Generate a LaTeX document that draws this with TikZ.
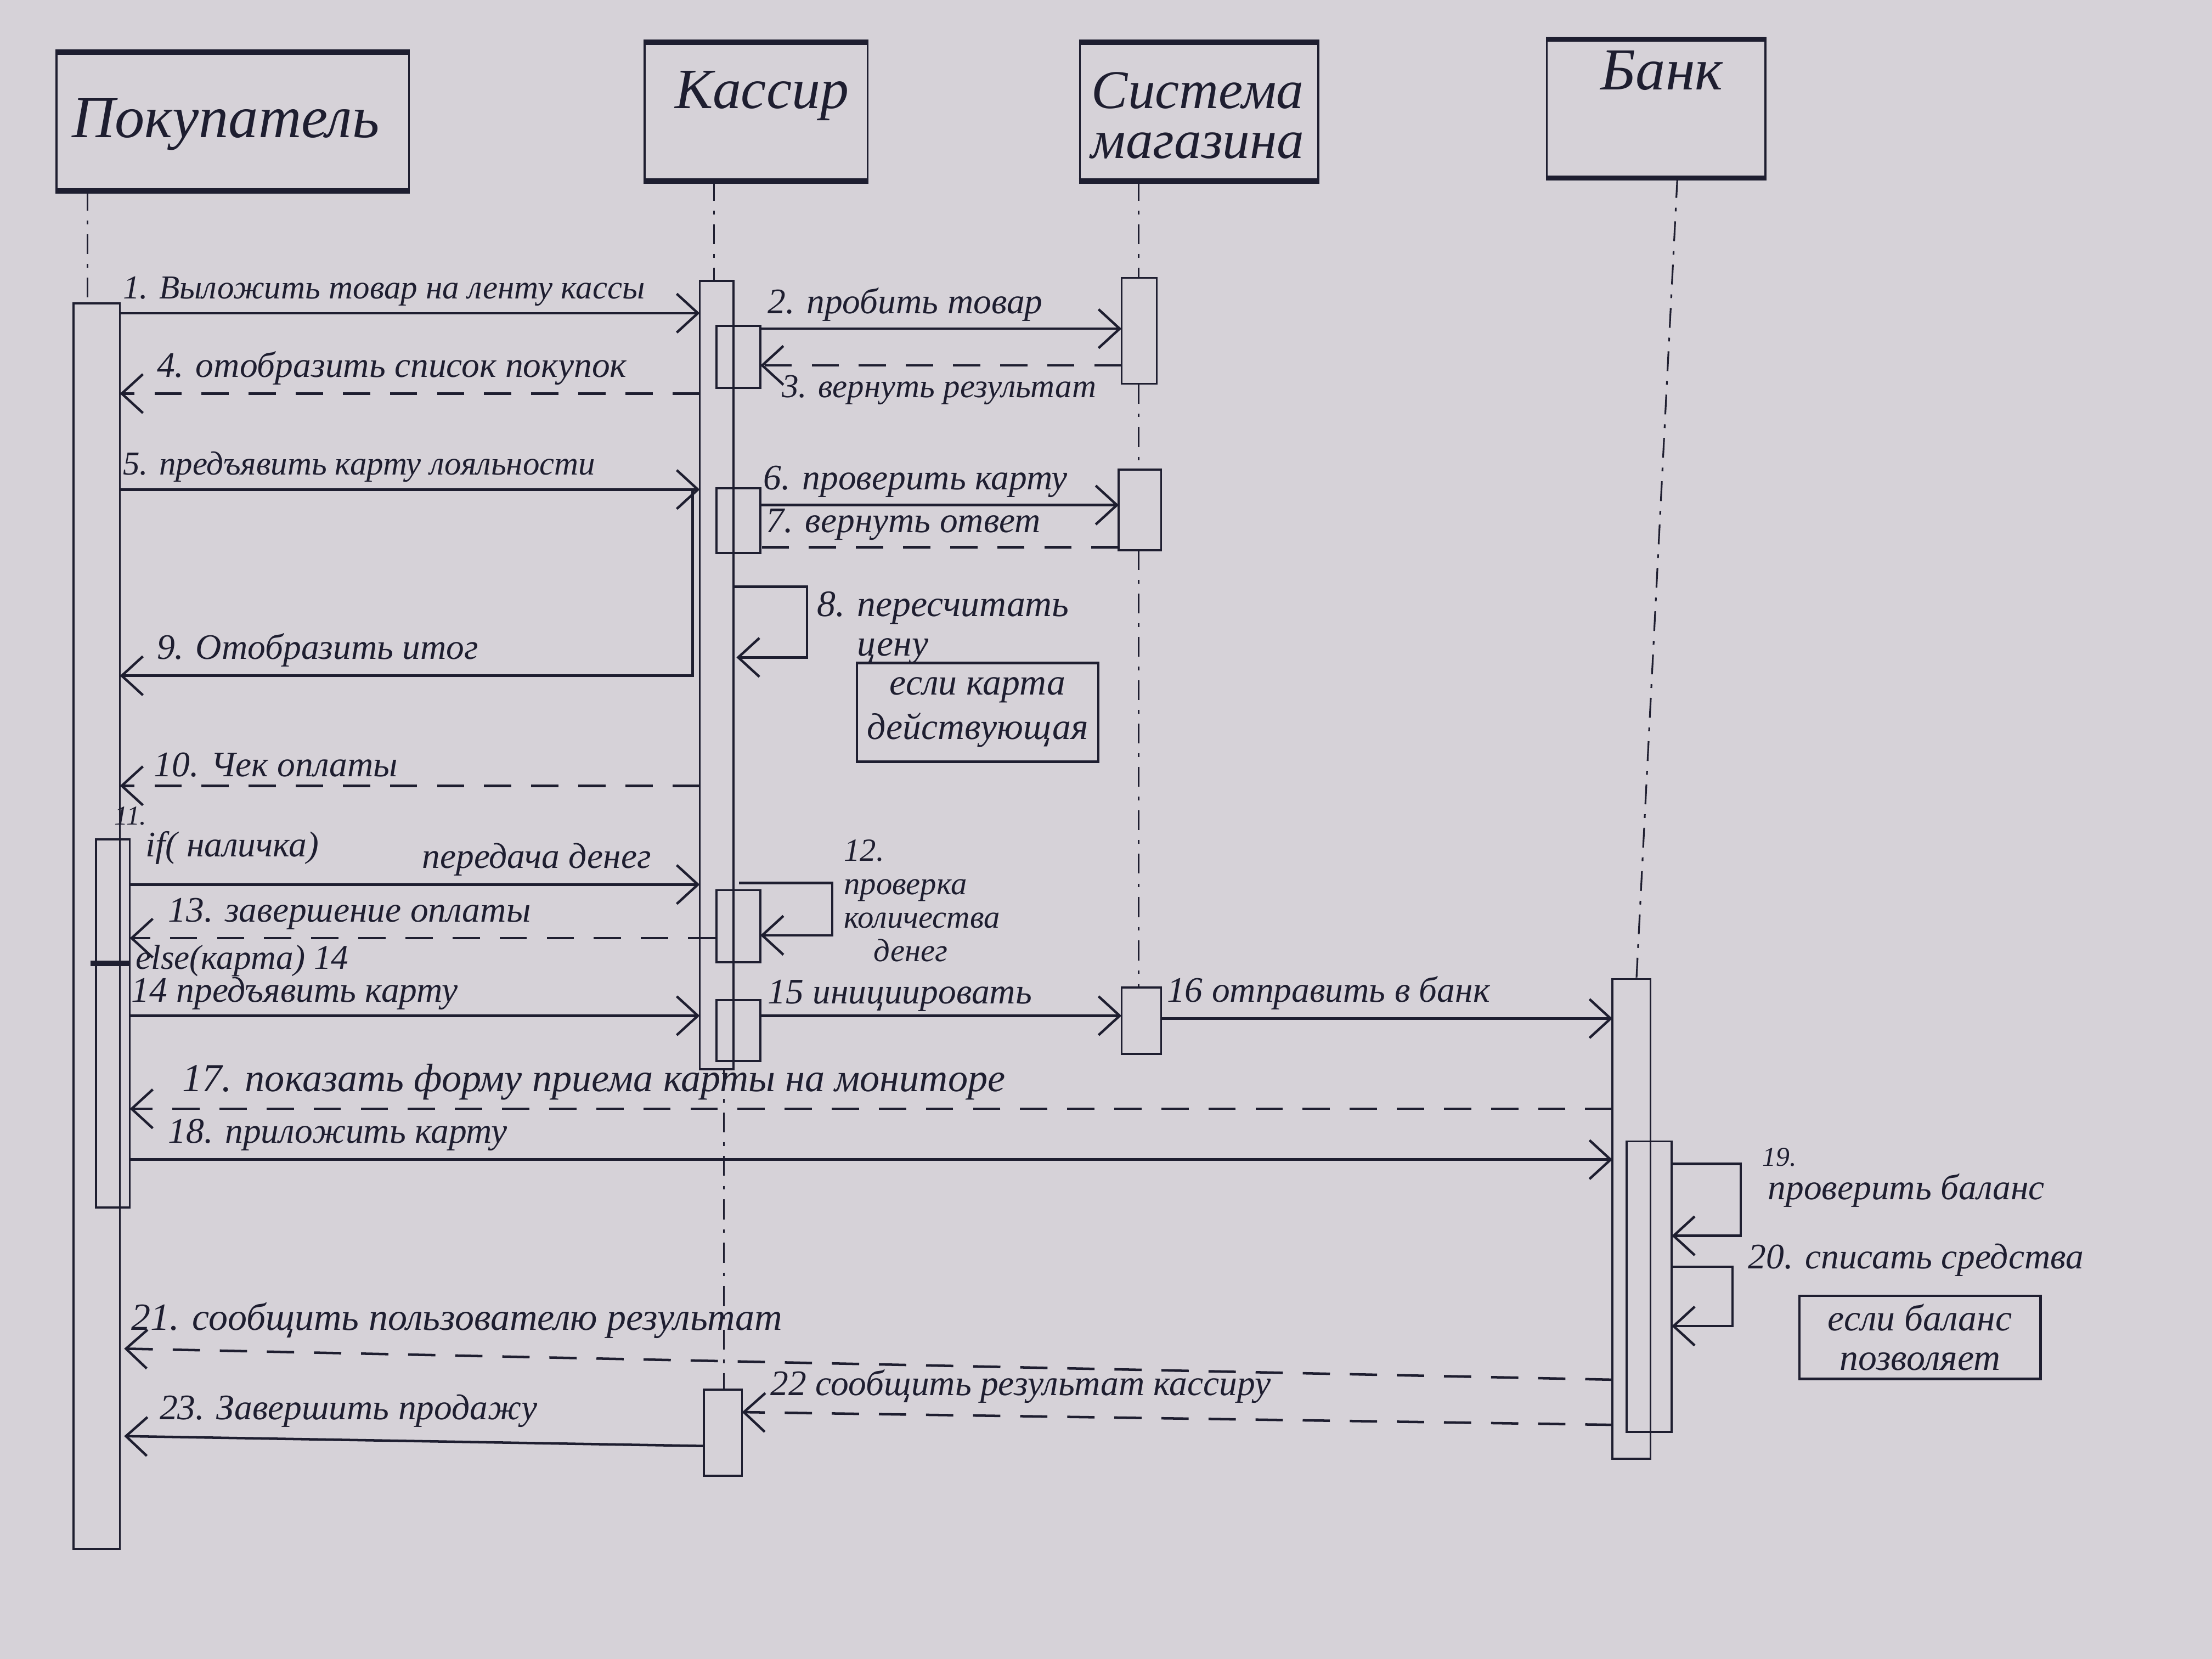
\documentclass[tikz,border=0pt]{standalone}
\usepackage{fontspec}
\setmainfont{Liberation Serif}
\usetikzlibrary{arrows.meta}
\definecolor{ink}{RGB}{30,30,48}
\definecolor{paper}{RGB}{214,210,216}

\begin{document}
\begin{tikzpicture}[x=0.02cm, y=-0.02cm,
	every node/.style={text=ink, font=\itshape\fontsize{14.5}{16}\selectfont},
	>={Straight Barb[length=3mm,width=5.5mm]},
	msg/.style={draw=ink, line width=1pt},
	reply/.style={draw=ink, line width=1pt, dash pattern=on 11pt off 8pt},
	lifeline/.style={draw=ink, line width=0.7pt, dash pattern=on 8pt off 4pt on 1.5pt off 4pt},
	actbar/.style={draw=ink, line width=0.8pt},
	head/.style={draw=ink, line width=0.8pt, minimum height=1.94cm},
	headtext/.style={font=\itshape\fontsize{24}{24}\selectfont, align=center},
	heavy/.style={draw=ink, line width=2.2pt},
	note/.style={draw=ink, line width=1pt, align=center, minimum width=3.42cm},
	lbl/.style={anchor=south west, inner sep=0.5pt}]
	\useasboundingbox (0,0) rectangle (1568,1176);
	\fill[paper] (0,0) rectangle (1568,1176);

	% heads
	\node[head, minimum width=5cm] (buyer) at (165,86) {};
	\node[headtext] (buyertxt) at (160,88) {Покупатель};
	\node[head, minimum width=3.16cm] (cashier) at (536,79) {};
	\node[headtext, font=\itshape\fontsize{23}{23}\selectfont] (cashiertxt) at (540,68) {Кассир};
	\node[head, minimum width=3.38cm] (shop) at (850,79) {};
	\node[headtext, font=\itshape\fontsize{22}{20}\selectfont] (shoptxt) at (849,82) {Система\\магазина};
	\node[head, minimum width=3.1cm] (bank) at (1174,77) {};
	\node[headtext] (banktxt) at (1178,50) {Банк};
	\draw[heavy] (buyer.north west) -- (buyer.north east);
	\draw[heavy] (buyer.south west) -- (buyer.south east);
	\draw[heavy] (cashier.north west) -- (cashier.north east);
	\draw[heavy] (cashier.south west) -- (cashier.south east);
	\draw[heavy] (shop.north west) -- (shop.north east);
	\draw[heavy] (shop.south west) -- (shop.south east);
	\draw[heavy] (bank.north west) -- (bank.north east);
	\draw[heavy] (bank.south west) -- (bank.south east);

	% lifelines
	\coordinate (buyerlife) at (62,215);
	\coordinate (cashierlife) at (506,199);
	\coordinate (shoplife) at (807,197);
	\coordinate (banklife) at (1160,694);
	\draw[lifeline] (buyer.south -| buyerlife) -- (buyerlife);
	\draw[lifeline] (cashier.south -| cashierlife) -- (cashierlife);
	\draw[lifeline] (shop.south -| shoplife) -- (shoplife);
	\draw[lifeline] (807,272) -- (807,333);
	\draw[lifeline] (807,390) -- (807,700);
	\draw[lifeline] (bank.south) ++(15,0) -- (banklife);
	\draw[lifeline] (513,758) -- (513,985);

	% activations
	\draw[actbar] (52,215) rectangle (85,1098);
	\draw[actbar] (68,595) rectangle (92,856);
	\draw[heavy] (64,683) -- (92,683);
	\draw[actbar] (496,199) rectangle (520,758);
	\draw[actbar] (508,231) rectangle (539,275);
	\draw[actbar] (508,346) rectangle (539,392);
	\draw[actbar] (508,631) rectangle (539,682);
	\draw[actbar] (508,709) rectangle (539,752);
	\draw[actbar] (499,985) rectangle (526,1046);
	\draw[actbar] (795,197) rectangle (820,272);
	\draw[actbar] (793,333) rectangle (823,390);
	\draw[actbar] (795,700) rectangle (823,747);
	\draw[actbar] (1143,694) rectangle (1170,1034);
	\draw[actbar] (1153,809) rectangle (1185,1015);

	% messages
	\coordinate (m1a) at (85,222);
	\coordinate (m1b) at (496,222);
	\draw[msg,->] (m1a) -- (m1b);
	\node[lbl, font=\itshape\fontsize{13.5}{15}\selectfont] (t1) at (86,218) {1. Выложить товар на ленту кассы};

	\coordinate (m2a) at (539,233);
	\coordinate (m2b) at (795,233);
	\draw[msg,->] (m2a) -- (m2b);
	\node[lbl] (t2) at (543,229) {2. пробить товар};

	\coordinate (m3a) at (795,259);
	\coordinate (m3b) at (539,259);
	\draw[reply,->] (m3a) -- (m3b);
	\node[anchor=north west, inner sep=0.5pt, font=\itshape\fontsize{13.5}{15}\selectfont] (t3) at (553,265) {3. вернуть результат};

	\coordinate (m4a) at (496,279);
	\coordinate (m4b) at (85,279);
	\draw[reply,->] (m4a) -- (m4b);
	\node[lbl] (t4) at (110,274) {4. отобразить список покупок};

	\coordinate (m5a) at (85,347);
	\coordinate (m5b) at (496,347);
	\draw[msg,->] (m5a) -- (m5b);
	\node[lbl, font=\itshape\fontsize{13.5}{15}\selectfont] (t5) at (86,343) {5. предъявить карту лояльности};

	\coordinate (m6a) at (539,358);
	\coordinate (m6b) at (793,358);
	\draw[msg,->] (m6a) -- (m6b);
	\node[lbl] (t6) at (540,354) {6. проверить карту};

	\coordinate (m7a) at (793,388);
	\coordinate (m7b) at (540,388);
	\draw[reply] (m7a) -- (m7b);
	\node[lbl] (t7) at (542,384) {7. вернуть ответ};

	\coordinate (s8a) at (520,416);
	\coordinate (s8b) at (572,466);
	\coordinate (s8c) at (522,466);
	\draw[msg,->] (s8a) -| (s8b) -- (s8c);
	\node[anchor=north west, inner sep=0.5pt, align=left, font=\itshape\fontsize{15}{16}\selectfont] (t8) at (578,418) {8. пересчитать\\\phantom{8. }цену};
	\node[note, minimum height=1.4cm, font=\itshape\fontsize{15}{18}\selectfont] (n8) at (693,505) {если карта\\действующая};

	\coordinate (m9a) at (491,347);
	\coordinate (m9b) at (85,479);
	\draw[msg,->] (m9a) |- (m9b);
	\node[lbl] (t9) at (110,474) {9. Отобразить итог};

	\coordinate (m10a) at (496,557);
	\coordinate (m10b) at (85,557);
	\draw[reply,->] (m10a) -- (m10b);
	\node[lbl] (t10) at (108,552) {10. Чек оплаты};

	\node[lbl, font=\itshape\fontsize{11}{12}\selectfont] (t11n) at (80,586) {11.};
	\node[anchor=west, inner sep=0.5pt] (t11) at (102,601) {if( наличка)};
	\coordinate (m11a) at (92,627);
	\coordinate (m11b) at (496,627);
	\draw[msg,->] (m11a) -- (m11b);
	\node[lbl] (t11b) at (298,622) {передача денег};

	\coordinate (s12a) at (524,626);
	\coordinate (s12b) at (590,663);
	\coordinate (s12c) at (539,663);
	\draw[msg,->] (s12a) -| (s12b) -- (s12c);
	\node[anchor=north west, inner sep=0.5pt, align=left, font=\itshape\fontsize{13}{13.5}\selectfont] (t12) at (597,594) {12.\\проверка\\количества\\\phantom{ко}денег};

	\coordinate (m13a) at (507,665);
	\coordinate (m13b) at (92,665);
	\draw[reply,->] (m13a) -- (m13b);
	\node[lbl] (t13) at (118,660) {13. завершение оплаты};

	\node[anchor=west, inner sep=0.5pt, font=\itshape\fontsize{14}{15}\selectfont] (telse) at (95,681) {else(карта) 14};

	\coordinate (m14a) at (92,720);
	\coordinate (m14b) at (496,720);
	\draw[msg,->] (m14a) -- (m14b);
	\node[lbl] (t14) at (92,717) {14 предъявить карту};

	\coordinate (m15a) at (539,720);
	\coordinate (m15b) at (795,720);
	\draw[msg,->] (m15a) -- (m15b);
	\node[lbl] (t15) at (543,718) {15 инициировать};

	\coordinate (m16a) at (823,722);
	\coordinate (m16b) at (1143,722);
	\draw[msg,->] (m16a) -- (m16b);
	\node[lbl] (t16) at (826,717) {16 отправить в банк};

	\coordinate (m17a) at (1143,786);
	\coordinate (m17b) at (92,786);
	\draw[reply,->] (m17a) -- (m17b);
	\node[lbl, font=\itshape\fontsize{16}{18}\selectfont] (t17) at (128,781) {17. показать форму приема карты на мониторе};

	\coordinate (m18a) at (92,822);
	\coordinate (m18b) at (1143,822);
	\draw[msg,->] (m18a) -- (m18b);
	\node[lbl] (t18) at (118,817) {18. приложить карту};

	\coordinate (s19a) at (1185,825);
	\coordinate (s19b) at (1234,876);
	\coordinate (s19c) at (1185,876);
	\draw[msg,->] (s19a) -| (s19b) -- (s19c);
	\node[lbl, font=\itshape\fontsize{11}{12}\selectfont] (t19n) at (1248,828) {19.};
	\node[anchor=west, inner sep=0.5pt] (t19) at (1252,844) {проверить баланс};

	\coordinate (s20a) at (1185,898);
	\coordinate (s20b) at (1228,940);
	\coordinate (s20c) at (1185,940);
	\draw[msg,->] (s20a) -| (s20b) -- (s20c);
	\node[anchor=west, inner sep=0.5pt] (t20) at (1238,893) {20. списать средства};
	\node[note, minimum height=1.06cm, font=\itshape\fontsize{15}{16}\selectfont] (n20) at (1361,948) {если баланс\\позволяет};

	\coordinate (m21a) at (1143,978);
	\coordinate (m21b) at (88,956);
	\draw[reply,->] (m21a) -- (m21b);
	\node[lbl, font=\itshape\fontsize{15.5}{17}\selectfont] (t21) at (92,950) {21. сообщить пользователю результат};

	\coordinate (m22a) at (1143,1010);
	\coordinate (m22b) at (526,1001);
	\draw[reply,->] (m22a) -- (m22b);
	\node[lbl] (t22) at (545,996) {22 сообщить результат кассиру};

	\coordinate (m23a) at (499,1025);
	\coordinate (m23b) at (88,1018);
	\draw[msg,->] (m23a) -- (m23b);
	\node[lbl] (t23) at (112,1013) {23. Завершить продажу};
\end{tikzpicture}
\end{document}
